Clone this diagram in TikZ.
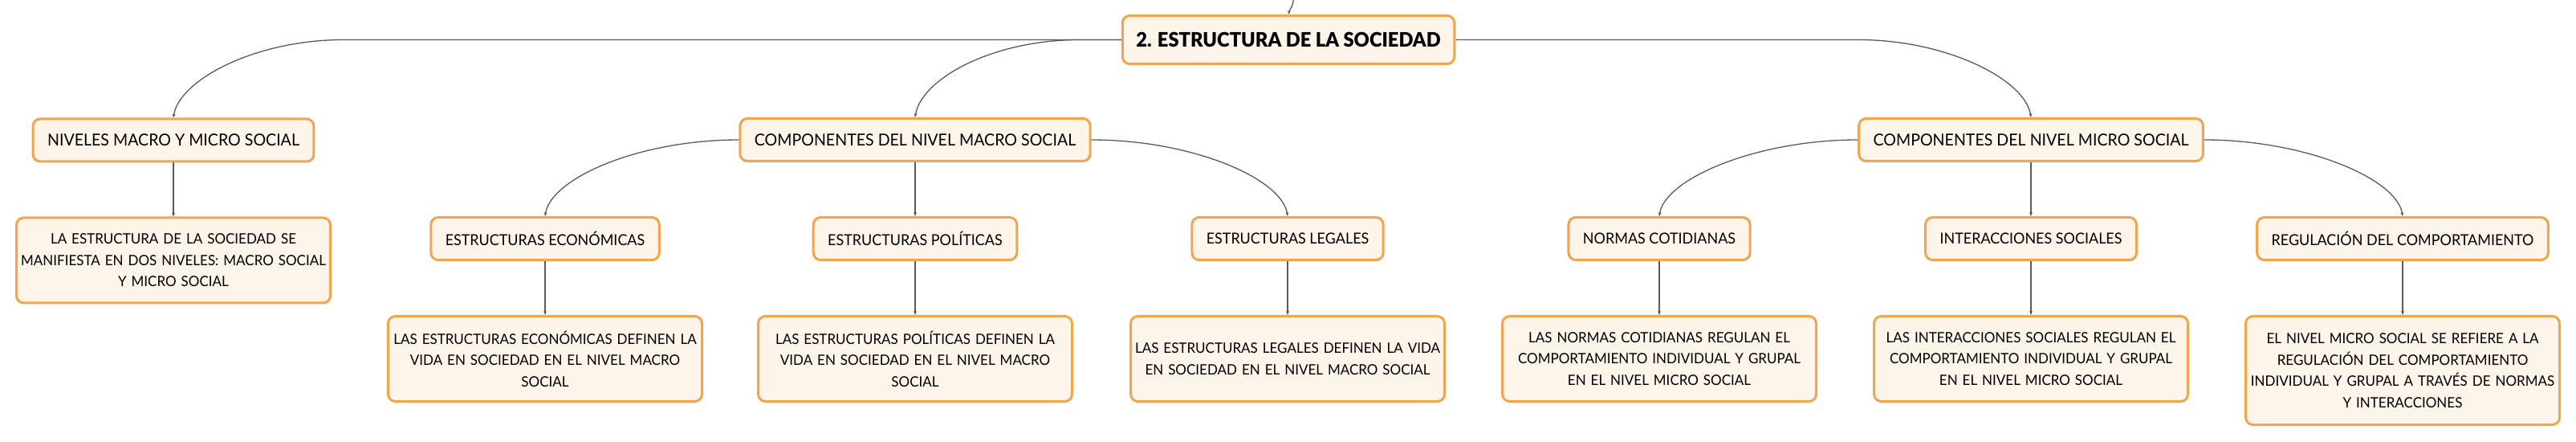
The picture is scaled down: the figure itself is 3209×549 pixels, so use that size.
\documentclass[tikz,border=0pt]{standalone}
\usepackage{fontspec}
\setmainfont{Lato}[FakeStretch=0.955]
\IfFontExistsTF{Lato Black}
  {\newfontfamily\rootface{Lato Black}[FakeStretch=0.955]}
  {\newcommand\rootface{\bfseries}}
\usepackage{tikz}
\usetikzlibrary{arrows.meta}
\usetikzlibrary{positioning}
\usetikzlibrary{calc}
\definecolor{boxline}{HTML}{F2A54E}
\definecolor{boxfill}{HTML}{FDF4EA}
\definecolor{linkgray}{HTML}{5A5A5A}
\newcommand\topicfont{\fontsize{20.5}{26.3}\selectfont}
\newcommand\subfont{\fontsize{18.8}{24}\selectfont}
\newcommand\notefont{\fontsize{17.8}{26.5}\selectfont}
\newcommand\rootfont{\rootface\fontsize{24.8}{28}\selectfont}
\tikzstyle{box}=[draw=boxline,fill=boxfill,line width=3pt,rounded corners=9pt]
\tikzstyle{topic}=[box,minimum height=53pt,inner xsep=18pt,font=\topicfont]
\tikzstyle{sub}=[topic,font=\subfont]
\tikzstyle{note}=[box,text width=389pt,inner xsep=1pt,align=center,minimum height=106pt,font=\notefont]
\tikzstyle{lkhead}=[>/.tip={Stealth[length=5pt,width=4pt]}]
\tikzstyle{lk}=[line width=1.3pt,draw=linkgray,lkhead,->]

\begin{document}
\begin{tikzpicture}[x=1pt,y=1pt,node distance=67pt]
	\useasboundingbox (0,0) rectangle (3209,549);
	\node[box,font=\rootfont,minimum height=60pt,inner xsep=17pt] (estr) at (1605,499.5) {2. ESTRUCTURA DE LA SOCIEDAD};
	\node[topic] (niv)   at (216,374.5) {NIVELES MACRO Y MICRO SOCIAL};
	\node[topic] (macro) at (1140,375)  {COMPONENTES DEL NIVEL MACRO SOCIAL};
	\node[topic] (micro) at (2530,375)  {COMPONENTES DEL NIVEL MICRO SOCIAL};
	\node[sub] (econ)  at (679,252)   {ESTRUCTURAS ECONÓMICAS};
	\node[sub,below=of macro] (polit) {ESTRUCTURAS POLÍTICAS};
	\node[sub] (legal) at (1604,252)  {ESTRUCTURAS LEGALES};
	\node[sub] (norm)  at (2067,252)  {NORMAS COTIDIANAS};
	\node[sub,below=of micro] (inter) {INTERACCIONES SOCIALES};
	\node[sub] (regul) at (2993,252)  {REGULACIÓN DEL COMPORTAMIENTO};
	\node[note,below=of niv]   (nivd)   {LA ESTRUCTURA DE LA SOCIEDAD SE\\ MANIFIESTA EN DOS NIVELES: MACRO SOCIAL\\ Y MICRO SOCIAL};
	\node[note,below=of econ]  (econd)  {LAS ESTRUCTURAS ECONÓMICAS DEFINEN LA\\ VIDA EN SOCIEDAD EN EL NIVEL MACRO\\ SOCIAL};
	\node[note,below=of polit] (politd) {LAS ESTRUCTURAS POLÍTICAS DEFINEN LA\\ VIDA EN SOCIEDAD EN EL NIVEL MACRO\\ SOCIAL};
	\node[note,below=of legal] (legald) {LAS ESTRUCTURAS LEGALES DEFINEN LA VIDA\\ EN SOCIEDAD EN EL NIVEL MACRO SOCIAL};
	\node[note,below=of norm]  (normd)  {LAS NORMAS COTIDIANAS REGULAN EL\\ COMPORTAMIENTO INDIVIDUAL Y GRUPAL\\ EN EL NIVEL MICRO SOCIAL};
	\node[note,below=of inter] (interd) {LAS INTERACCIONES SOCIALES REGULAN EL\\ COMPORTAMIENTO INDIVIDUAL Y GRUPAL\\ EN EL NIVEL MICRO SOCIAL};
	\node[note,below=of regul,minimum height=135pt] (regd) {EL NIVEL MICRO SOCIAL SE REFIERE A LA\\ REGULACIÓN DEL COMPORTAMIENTO\\ INDIVIDUAL Y GRUPAL A TRAVÉS DE NORMAS\\ Y INTERACCIONES};
	\coordinate (up) at (1611,549);
	\draw[lk] (up) .. controls +(0,-8) and +(2,8) .. (estr.north);
	\draw[lk] (estr.west) -- ($(niv.north |- estr.west)+(212,0)$) .. controls +(-110,0) and +(7,47) .. (niv.north);
	\draw[lk] (estr.west) -- ($(macro.north |- estr.west)+(205,0)$) .. controls +(-110,0) and +(7,47) .. (macro.north);
	\draw[lk] (estr.east) -- ($(micro.north |- estr.east)+(-215,0)$) .. controls +(110,0) and +(-7,47) .. (micro.north);
	\draw[lk] (macro.west) .. controls +(-125,0) and +(7,47) .. (econ.north);
	\draw[lk] (macro) -- (polit);
	\draw[lk] (macro.east) .. controls +(125,0) and +(-7,47) .. (legal.north);
	\draw[lk] (micro.west) .. controls +(-125,0) and +(7,47) .. (norm.north);
	\draw[lk] (micro) -- (inter);
	\draw[lk] (micro.east) .. controls +(125,0) and +(-7,47) .. (regul.north);
	\draw[lk] (niv) -- (nivd);
	\draw[lk] (econ) -- (econd);
	\draw[lk] (polit) -- (politd);
	\draw[lk] (legal) -- (legald);
	\draw[lk] (norm) -- (normd);
	\draw[lk] (inter) -- (interd);
	\draw[lk] (regul) -- (regd);
\end{tikzpicture}
\end{document}
